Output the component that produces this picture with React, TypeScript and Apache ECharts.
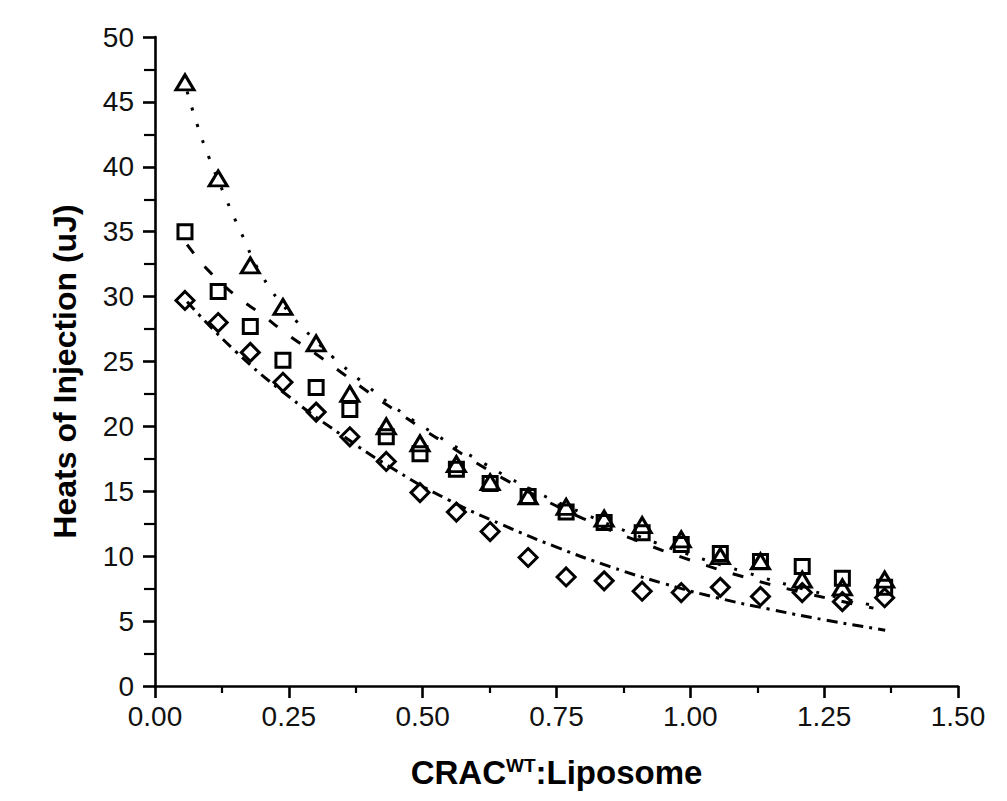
import React, { useEffect, useRef } from "react";
import * as echarts from "echarts";

// Measured points (x = CRAC:Liposome ratio)
const ratios = [0.056, 0.118, 0.178, 0.239, 0.301, 0.364, 0.432, 0.495, 0.563, 0.626, 0.697, 0.768, 0.839, 0.91, 0.983, 1.056, 1.131, 1.209, 1.284, 1.363];
const triangleHeats = [46.5, 39.1, 32.4, 29.2, 26.4, 22.5, 20.0, 18.7, 17.1, 15.7, 14.6, 13.8, 12.9, 12.4, 11.3, 10.0, 9.6, 8.2, 7.6, 8.2];
const squareHeats = [35.0, 30.4, 27.7, 25.1, 23.0, 21.3, 19.2, 17.9, 16.7, 15.6, 14.6, 13.4, 12.6, 11.8, 10.9, 10.2, 9.6, 9.2, 8.3, 7.6];
const diamondHeats = [29.7, 28.0, 25.7, 23.4, 21.1, 19.2, 17.3, 14.9, 13.4, 11.9, 9.9, 8.4, 8.1, 7.3, 7.2, 7.6, 6.9, 7.2, 6.5, 6.8];

// Fit curves
const triFitX = [0.06, 0.08, 0.1, 0.13, 0.16, 0.2, 0.25, 0.3, 0.35, 0.4, 0.45, 0.5, 0.6, 0.7, 0.8, 0.9, 1.0, 1.1, 1.2, 1.342];
const triFitY = [45.8, 43.1, 40.8, 37.8, 35.0, 31.6, 28.8, 26.6, 24.7, 23.0, 21.4, 20.0, 17.5, 15.2, 13.3, 11.6, 10.1, 8.8, 7.6, 6.2];
const sqFitX = [0.06, 0.1, 0.15, 0.2, 0.25, 0.3, 0.35, 0.4, 0.45, 0.5, 0.55, 0.6, 0.65, 0.7, 0.8, 0.9, 1.0, 1.1, 1.2, 1.342];
const sqFitY = [34.0, 32.0, 30.1, 28.6, 27.0, 25.6, 24.1, 22.6, 21.2, 19.8, 18.5, 17.2, 16.0, 14.9, 12.9, 11.2, 9.7, 8.4, 7.3, 6.0];
const dmFitX = [0.06, 0.15, 0.25, 0.35, 0.45, 0.55, 0.65, 0.75, 0.85, 0.95, 1.05, 1.15, 1.25, 1.364];
const dmFitY = [29.6, 25.8, 22.3, 19.3, 16.6, 14.3, 12.4, 10.7, 9.2, 7.9, 6.8, 5.9, 5.1, 4.3];

const xTicks = { min: 0, max: 1.5, interval: 0.25 };
const yTicks = { min: 0, max: 50, interval: 5 };

const zip = (xs: number[], ys: number[]) => xs.map((x, i) => [x, ys[i]]);

const INK = "#000";
const FONT = "'Liberation Sans', Arial, sans-serif";

export default function App() {
  const ref = useRef<HTMLDivElement>(null);
  useEffect(() => {
    if (!ref.current) return;
    const chart = echarts.init(ref.current, null, { renderer: "svg" });
    const markerStyle = { color: "rgba(0,0,0,0)", borderColor: INK, borderWidth: 3, opacity: 1 };
    const fitLine = (data: number[][], dash: number[]) => ({
      type: "line",
      data,
      smooth: true,
      showSymbol: false,
      symbol: "none",
      silent: true,
      lineStyle: { color: INK, width: 3, type: dash },
      z: 1,
    });
    chart.setOption({
      animation: false,
      backgroundColor: "#fff",
      textStyle: { fontFamily: FONT },
      grid: { left: 155, right: 49, top: 37, bottom: 115, containLabel: false },
      xAxis: {
        type: "value",
        min: xTicks.min,
        max: xTicks.max,
        interval: xTicks.interval,
        name: "{a|CRAC}{b|WT}{a|:Liposome}",
        nameLocation: "middle",
        nameGap: 70,
        nameTextStyle: {
          rich: {
            a: { fontSize: 33, fontWeight: "bold", color: INK, fontFamily: FONT },
            b: { fontSize: 19, fontWeight: "bold", color: INK, fontFamily: FONT, verticalAlign: "top" },
          },
        },
        axisLine: { show: true, onZero: false, lineStyle: { color: INK, width: 2.6 } },
        axisTick: { show: true, length: 12, lineStyle: { color: INK, width: 2.6 } },
        minorTick: { show: true, splitNumber: 2, length: 7, lineStyle: { color: INK, width: 2.2 } },
        splitLine: { show: false },
        minorSplitLine: { show: false },
        axisLabel: {
          formatter: (v: number) => v.toFixed(2),
          fontSize: 28,
          color: "#111",
          margin: 16,
          fontFamily: FONT,
        },
      },
      yAxis: {
        type: "value",
        min: yTicks.min,
        max: yTicks.max,
        interval: yTicks.interval,
        name: "Heats of Injection (uJ)",
        nameLocation: "middle",
        nameGap: 74,
        nameTextStyle: { fontSize: 32, fontWeight: "bold", color: INK, fontFamily: FONT, padding: [0, 20, 0, 0] },
        axisLine: { show: true, onZero: false, lineStyle: { color: INK, width: 2.6 } },
        axisTick: { show: true, length: 12, lineStyle: { color: INK, width: 2.6 } },
        minorTick: { show: true, splitNumber: 2, length: 11, lineStyle: { color: INK, width: 2.2 } },
        splitLine: { show: false },
        minorSplitLine: { show: false },
        axisLabel: { fontSize: 28, color: "#111", margin: 21, fontFamily: FONT },
      },
      series: [
        fitLine(zip(triFitX, triFitY), [3, 14]),
        fitLine(zip(sqFitX, sqFitY), [11, 17]),
        fitLine(zip(dmFitX, dmFitY), [11, 6, 3, 6]),
        {
          type: "scatter",
          data: zip(ratios, diamondHeats),
          symbol: "diamond",
          symbolSize: [18, 18],
          itemStyle: markerStyle,
          z: 3,
        },
        {
          type: "scatter",
          data: zip(ratios, squareHeats),
          symbol: "rect",
          symbolSize: [14, 14],
          itemStyle: markerStyle,
          z: 3,
        },
        {
          type: "scatter",
          data: zip(ratios, triangleHeats),
          symbol: "triangle",
          symbolSize: [18, 15],
          itemStyle: markerStyle,
          z: 3,
        },
      ],
    });
    return () => chart.dispose();
  }, []);
  return <div ref={ref} style={{ width: 1007, height: 801, position: "absolute", left: 0, top: 0 }} />;
}
